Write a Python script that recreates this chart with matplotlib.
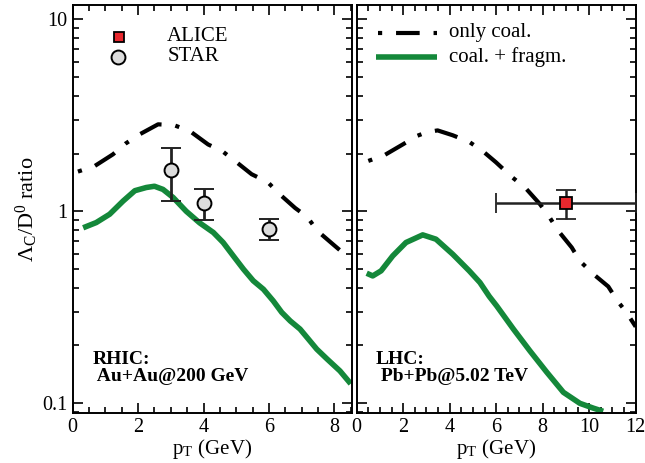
import numpy as np
import matplotlib
matplotlib.use("Agg")
import matplotlib.pyplot as plt
from matplotlib.ticker import MultipleLocator, LogLocator, NullFormatter

plt.rcParams['font.family'] = ['Liberation Serif', 'DejaVu Serif']
plt.rcParams['mathtext.fontset'] = 'stix'
plt.rcParams['lines.scale_dashes'] = False

# RHIC, Au+Au @ 200 GeV
rhic_coal_x = [0.16, 0.67, 1.23, 1.61, 2.05, 2.61, 3.1, 3.58, 4.14, 4.57, 4.96, 5.47,
               5.96, 6.32, 6.8, 7.17, 7.48, 7.99, 8.4]
rhic_coal_y = [1.61, 1.72, 1.98, 2.25, 2.52, 2.84, 2.81, 2.62, 2.23, 2.06, 1.83, 1.56,
               1.42, 1.23, 1.04, 0.934, 0.79, 0.665, 0.58]
rhic_frag_x = [0.32, 0.72, 1.13, 1.54, 1.9, 2.25, 2.5, 2.76, 3.07, 3.47, 3.88, 4.3,
               4.6, 4.91, 5.22, 5.52, 5.83, 6.13, 6.39, 6.65, 6.95, 7.2, 7.46, 7.77,
               8.17, 8.5]
rhic_frag_y = [0.82, 0.873, 0.965, 1.13, 1.28, 1.33, 1.35, 1.30, 1.18, 1.0, 0.87,
               0.775, 0.687, 0.585, 0.499, 0.434, 0.392, 0.341, 0.297, 0.268, 0.243,
               0.216, 0.191, 0.17, 0.147, 0.126]
star_x = [3, 4, 6]
star_y = [1.64, 1.11, 0.806]
star_lo = [1.13, 0.90, 0.706]
star_hi = [2.13, 1.30, 0.908]

# LHC, Pb+Pb @ 5.02 TeV
lhc_coal_x = [0.5, 1.19, 1.98, 2.59, 3.0, 3.48, 4.13, 4.84, 5.42, 5.99, 6.67, 7.24,
              7.88, 8.27, 8.67, 9.25, 9.6, 10.18, 10.82, 11.22, 11.6, 12.0]
lhc_coal_y = [1.83, 1.96, 2.23, 2.47, 2.58, 2.64, 2.49, 2.3, 2.06, 1.80, 1.51, 1.33,
              1.09, 0.94, 0.79, 0.647, 0.55, 0.47, 0.405, 0.34, 0.297, 0.25]
lhc_frag_x = [0.43, 0.69, 1.05, 1.55, 2.12, 2.84, 3.41, 4.13, 4.84, 5.3, 5.7, 6.02,
              6.74, 7.45, 8.17, 8.89, 9.6, 10.18, 10.6]
lhc_frag_y = [0.475, 0.46, 0.489, 0.585, 0.687, 0.753, 0.715, 0.597, 0.489, 0.425,
              0.36, 0.321, 0.243, 0.187, 0.145, 0.1137, 0.0996, 0.094, 0.0905]
alice_x = [9.0]
alice_y = [1.10]
alice_xlo, alice_xhi = [6.0], [12.0]
alice_lo, alice_hi = [0.91], [1.29]

green = '#14883a'
red = '#e8282e'
dashdot = (0, (3, 10, 17, 10))

fig = plt.figure(figsize=(6.45, 4.63), dpi=100)
ax1 = fig.add_axes([0.1127, 0.1086, 0.4326, 0.8806])
ax2 = fig.add_axes([0.553, 0.1086, 0.4326, 0.8806], sharey=ax1)

for ax, xmax in ((ax1, 8.53), (ax2, 12)):
    ax.set_yscale('log')
    ax.set_ylim(0.089, 11.9)
    ax.set_xlim(0, xmax)
    ax.xaxis.set_major_locator(MultipleLocator(2))
    ax.xaxis.set_minor_locator(MultipleLocator(0.5))
    ax.yaxis.set_major_locator(LogLocator(base=10, numticks=10))
    ax.yaxis.set_minor_locator(LogLocator(base=10, subs=np.arange(2, 10), numticks=10))
    ax.yaxis.set_minor_formatter(NullFormatter())
    ax.tick_params(which='both', direction='in', top=True, right=True, labelsize=14.5,
                   width=1.2)
    ax.tick_params(which='major', length=7.5)
    ax.tick_params(which='minor', length=4)
    for s in ax.spines.values():
        s.set_linewidth(1.4)
    ax.set_xlabel('p$_\\mathregular{T}$ (GeV)', fontsize=15, labelpad=0)

ax1.set_yticks([0.1, 1, 10])
ax1.set_yticklabels(['0.1', '1', '10'])
ax2.tick_params(labelleft=False)
ax1.set_ylabel('$\\mathregular{\\Lambda_C/D^0}$ ratio', fontsize=16, labelpad=2)

# left panel
ax1.plot(rhic_coal_x, rhic_coal_y, color='black', lw=3, linestyle=dashdot)
ax1.plot(rhic_frag_x, rhic_frag_y, color=green, lw=4, solid_capstyle='butt')
star_err = [np.array(star_y) - np.array(star_lo), np.array(star_hi) - np.array(star_y)]
ax1.errorbar(star_x, star_y, yerr=star_err, fmt='o', ms=10, mfc='#dcdcdc', mec='black',
             mew=1.4, ecolor='#222222', elinewidth=2, capsize=7, capthick=2, zorder=5)
ax1.plot([1.43], [8.13], 's', ms=6.5, mfc=red, mec='black', mew=1.3)
ax1.plot([1.39], [6.4], 'o', ms=10, mfc='#dcdcdc', mec='black', mew=1.4)
ax1.text(2.89, 8.13, 'ALICE', fontsize=15, va='center')
ax1.text(2.89, 6.4, 'STAR', fontsize=15, va='center')
ax1.text(0.62, 0.1306, 'RHIC:\n Au+Au@200 GeV', fontsize=14, fontweight='bold',
         va='baseline', linespacing=0.95)

# right panel
ax2.plot(lhc_coal_x, lhc_coal_y, color='black', lw=3, linestyle=dashdot)
ax2.plot(lhc_frag_x, lhc_frag_y, color=green, lw=4, solid_capstyle='butt')
alice_xerr = [[alice_x[0] - alice_xlo[0]], [alice_xhi[0] - alice_x[0]]]
alice_yerr = [[alice_y[0] - alice_lo[0]], [alice_hi[0] - alice_y[0]]]
ax2.errorbar(alice_x, alice_y, xerr=alice_xerr, yerr=alice_yerr, fmt='s', ms=9,
             mfc=red, mec='black', mew=1.3, ecolor='#222222', elinewidth=1.8,
             capsize=7, capthick=1.8, zorder=5, clip_on=False)
ax2.plot([0.92, 3.44], [8.55, 8.55], color='black', lw=3, linestyle=dashdot)
ax2.plot([0.83, 3.45], [6.4, 6.4], color=green, lw=4, solid_capstyle='butt')
ax2.text(3.97, 8.55, 'only coal.', fontsize=15, va='center')
ax2.text(3.97, 6.4, 'coal. + fragm.', fontsize=15, va='center')
ax2.text(0.83, 0.1306, 'LHC:\n Pb+Pb@5.02 TeV', fontsize=14, fontweight='bold',
         va='baseline', linespacing=0.95)

fig.savefig('out.png', dpi=100)
